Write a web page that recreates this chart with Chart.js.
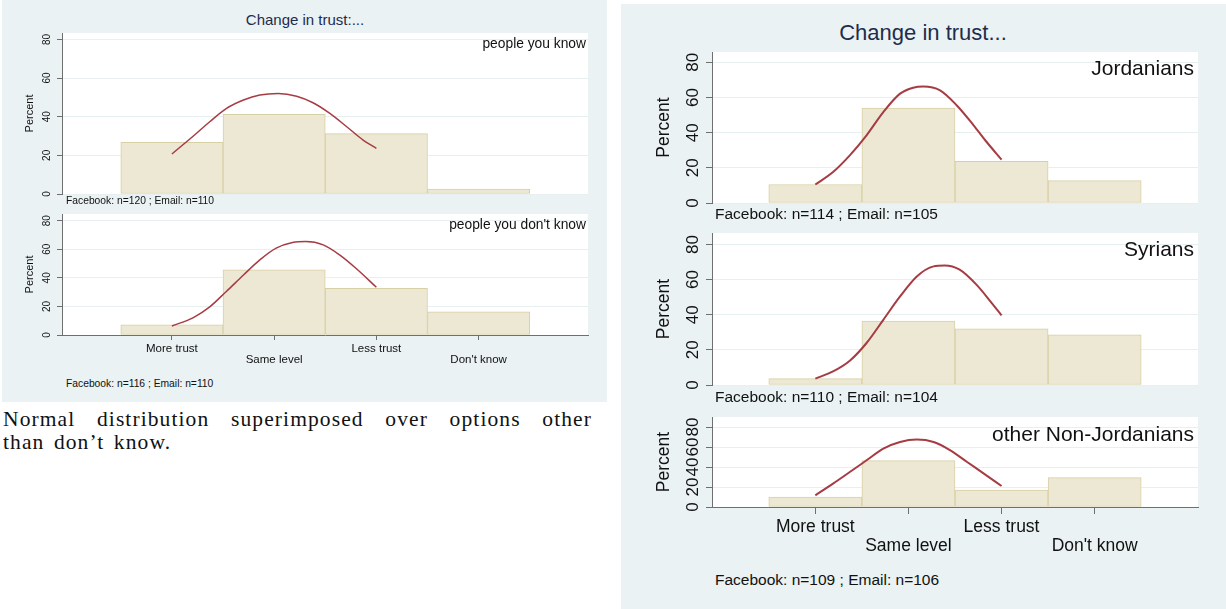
<!DOCTYPE html>
<html>
<head>
<meta charset="utf-8">
<script src="https://cdn.jsdelivr.net/npm/chart.js@4.4.0/dist/chart.umd.min.js"></script>
<style>
  body { margin: 0; width: 1226px; height: 609px; background: #fff; position: relative; overflow: hidden;
         font-family: "Liberation Sans", Arial, sans-serif; }
  .bg { position: absolute; background: #eaf2f3; }
  canvas { position: absolute; }
  .t { position: absolute; white-space: nowrap; line-height: 1; color: #111; }
  .cap { position: absolute; left: 3px; width: 589px; font-family: "Liberation Serif", "Times New Roman", serif;
         font-size: 21.5px; letter-spacing: 1.1px; word-spacing: 3px; color: #111; line-height: 1; }
</style>
</head>
<body>
<div class="bg" style="left:2px;top:0;width:605px;height:402px"></div>
<div class="bg" style="left:621px;top:4px;width:605px;height:605px"></div>

<canvas id="c1" width="592" height="168" style="left:0;top:30px"></canvas>
<canvas id="c2" width="592" height="160" style="left:0;top:211px"></canvas>
<canvas id="c3" width="577" height="158" style="left:625px;top:49px"></canvas>
<canvas id="c4" width="577" height="159" style="left:625px;top:230px"></canvas>
<canvas id="c5" width="577" height="149" style="left:625px;top:414px"></canvas>

<div class="cap" style="top:409px;text-align:justify;text-align-last:justify">Normal distribution superimposed over options other</div>
<div class="cap" style="top:432px">than don’t know.</div>

<script>
// categories on the x axis and y tick values
const categories = ['More trust', 'Same level', 'Less trust', "Don't know"];
const yTicks = [0, 20, 40, 60, 80];

// left figure: people you know / people you don't know
const knowPct = [26.7, 41.2, 31.2, 2.5];
const knowCurveX = [1.0, 1.21, 1.37, 1.535, 1.70, 1.86, 2.04, 2.22, 2.38, 2.545, 2.71, 2.87, 3.0];
const knowCurve = [20.7, 30.0, 37.4, 44.3, 48.6, 51.2, 52.0, 50.6, 47.2, 41.7, 34.8, 27.9, 23.6];
const unknownPct = [7.2, 45.7, 32.6, 16.2];
const unknownCurveX = [1.0, 1.21, 1.37, 1.53, 1.70, 1.86, 2.02, 2.18, 2.31, 2.48, 2.64, 2.80, 3.0];
const unknownCurve = [6.3, 12.2, 19.7, 30.3, 42, 52.6, 60.8, 64.7, 65.4, 63.1, 56.1, 46.7, 33.4];

// right figure: Jordanians / Syrians / other Non-Jordanians
const jordPct = [10.5, 54, 23.7, 12.7];
const jordCurveX = [1.0, 1.19, 1.37, 1.55, 1.73, 1.91, 2.05, 2.16, 2.34, 2.52, 2.70, 2.84, 3.0];
const jordCurve = [10.5, 17.6, 27.1, 38.5, 51.7, 62.2, 65.6, 66.3, 64.1, 55.5, 44.2, 34.7, 24.7];
const syrPct = [3.6, 36.4, 32, 28.6];
const syrCurveX = [1.0, 1.19, 1.37, 1.55, 1.73, 1.91, 2.09, 2.27, 2.39, 2.55, 2.73, 2.88, 3.0];
const syrCurve = [3.6, 7.7, 13.8, 23.9, 37.1, 50.4, 61.8, 67.5, 68.0, 65.6, 57.1, 47.6, 39.6];
const otherPct = [10, 46.4, 17, 29.4];
const otherCurveX = [1.0, 1.19, 1.37, 1.55, 1.73, 1.91, 2.09, 2.27, 2.45, 2.63, 2.81, 3.0];
const otherCurve = [11.7, 23.4, 35, 46.7, 58.4, 65, 67.4, 65, 56.7, 45, 33.4, 21];

const groupLabels = ['people you know', "people you don't know", 'Jordanians', 'Syrians', 'other Non-Jordanians'];
const notes = ['Facebook: n=120 ; Email: n=110', 'Facebook: n=116 ; Email: n=110',
               'Facebook: n=114 ; Email: n=105', 'Facebook: n=110 ; Email: n=104',
               'Facebook: n=109 ; Email: n=106'];
const titles = ['Change in trust:...', 'Change in trust...'];

const FONT = '"Liberation Sans", Arial, sans-serif';
const axisColor = '#6f6f6f';
const gridColor = '#e8eff1';

// sizes of the two figures
const small = { tick: 10, title: 11, xlab: 11.5, xlh: 1.0, yTickLen: 5, xTickLen: 5, yPad: 4, titlePad: 23.4, xPad: 3, line: 1.5, yW: 62 };
const big = { tick: 17, title: 17.5, xlab: 17.5, xlh: 1.1, yTickLen: 6, xTickLen: 7, yPad: 3.5, titlePad: 28.5, xPad: 3.7, line: 2, yW: 87 };

const whiteArea = {
  id: 'whiteArea',
  beforeDraw(chart) {
    const { ctx, chartArea: a } = chart;
    ctx.save();
    ctx.fillStyle = '#ffffff';
    ctx.fillRect(a.left, a.top, a.right - a.left, a.bottom - a.top);
    ctx.restore();
  }
};

function makeHist(id, pct, curveX, curve, s, o) {
  const ctx = document.getElementById(id).getContext('2d');
  new Chart(ctx, {
    type: 'bar',
    data: {
      datasets: [{
        type: 'line',
        data: curveX.map((x, i) => ({ x: x, y: curve[i] })),
        borderColor: '#a63c43',
        borderWidth: s.line,
        pointRadius: 0,
        cubicInterpolationMode: 'monotone',
        fill: false,
        order: 1
      }, {
        type: 'bar',
        data: pct.map((v, i) => ({ x: i + 1, y: v })),
        backgroundColor: '#ece8d3',
        borderColor: '#d8d0a5',
        borderWidth: 1,
        borderSkipped: false,
        barPercentage: 1,
        categoryPercentage: 1,
        order: 2
      }]
    },
    options: {
      responsive: false,
      animation: false,
      devicePixelRatio: 1,
      events: [],
      layout: { padding: o.pad },
      plugins: { legend: { display: false }, tooltip: { enabled: false } },
      scales: {
        x: {
          type: 'linear',
          display: o.showX,
          min: o.xMin,
          max: o.xMax,
          offset: false,
          afterBuildTicks: sc => { sc.ticks = categories.map((c, i) => ({ value: i + 1 })); },
          afterFit: sc => {
            if (o.showX) sc.height = o.xH;
            sc.paddingLeft = 0; sc.paddingRight = 0;
          },
          border: { display: true, color: axisColor, width: 1 },
          grid: { drawOnChartArea: false, offset: false, tickLength: s.xTickLen, tickColor: axisColor },
          ticks: {
            autoSkip: false, minRotation: 0, maxRotation: 0, padding: s.xPad, color: '#111',
            font: { family: FONT, size: s.xlab, lineHeight: s.xlh },
            callback: v => {
              const i = Math.round(v) - 1;
              return i % 2 === 0 ? [categories[i]] : ['', categories[i]];
            }
          }
        },
        y: {
          min: 0,
          max: o.yMax,
          afterBuildTicks: sc => { sc.ticks = yTicks.map(v => ({ value: v })); },
          afterFit: sc => {
            sc.width = s.yW;
            sc.paddingTop = 0; sc.paddingBottom = 0;
          },
          border: { display: true, color: axisColor, width: 1 },
          grid: { color: gridColor, tickColor: axisColor, tickLength: s.yTickLen },
          ticks: {
            autoSkip: false, minRotation: 90, maxRotation: 90, crossAlign: 'center',
            padding: s.yPad, color: '#111', font: { family: FONT, size: s.tick }
          },
          title: {
            display: true, text: 'Percent', color: '#111',
            font: { family: FONT, size: s.title },
            padding: { top: s.titlePad, bottom: 0 }
          }
        }
      }
    },
    plugins: [whiteArea]
  });
}

makeHist('c1', knowPct, knowCurveX, knowCurve, small, { pad: { top: 3, right: 4, bottom: 4 }, yMax: 83.3, xMin: -0.075, xMax: 5.07, showX: false });
makeHist('c2', unknownPct, unknownCurveX, unknownCurve, small, { pad: { top: 3, right: 4, bottom: 0 }, yMax: 84.7, xMin: -0.075, xMax: 5.07, showX: true, xH: 36 });
makeHist('c3', jordPct, jordCurveX, jordCurve, big, { pad: { top: 3, right: 4, bottom: 4 }, yMax: 85.9, xMin: -0.11, xMax: 5.11, showX: false });
makeHist('c4', syrPct, syrCurveX, syrCurve, big, { pad: { top: 3, right: 4, bottom: 4 }, yMax: 86.5, xMin: -0.11, xMax: 5.11, showX: false });
makeHist('c5', otherPct, otherCurveX, otherCurve, big, { pad: { top: 3, right: 4, bottom: 0 }, yMax: 90, xMin: -0.11, xMax: 5.11, showX: true, xH: 56 });

// text labels placed as html
function addText(text, x, y, size, align, color) {
  const d = document.createElement('div');
  d.className = 't';
  d.textContent = text;
  d.style.left = x + 'px';
  d.style.top = y + 'px';
  d.style.fontSize = size + 'px';
  if (color) d.style.color = color;
  const tx = align === 'right' ? '-100%' : align === 'center' ? '-50%' : '0';
  d.style.transform = 'translate(' + tx + ', -50%)';
  document.body.appendChild(d);
}

addText(titles[0], 305, 19, 15, 'center', '#1e2c4d');
addText(groupLabels[0], 586, 44, 13.8, 'right');
addText(notes[0], 66, 201, 10.3, 'left');
addText(groupLabels[1], 586, 225, 13.8, 'right');
addText(notes[1], 66, 384, 10.3, 'left');

addText(titles[1], 923, 33, 22, 'center', '#1e2c4d');
addText(groupLabels[2], 1194, 67, 21, 'right');
addText(notes[2], 715, 214, 15.5, 'left');
addText(groupLabels[3], 1194, 248, 21, 'right');
addText(notes[3], 715, 397, 15.5, 'left');
addText(groupLabels[4], 1194, 433, 21, 'right');
addText(notes[4], 715, 580, 15.5, 'left');
</script>
</body>
</html>
